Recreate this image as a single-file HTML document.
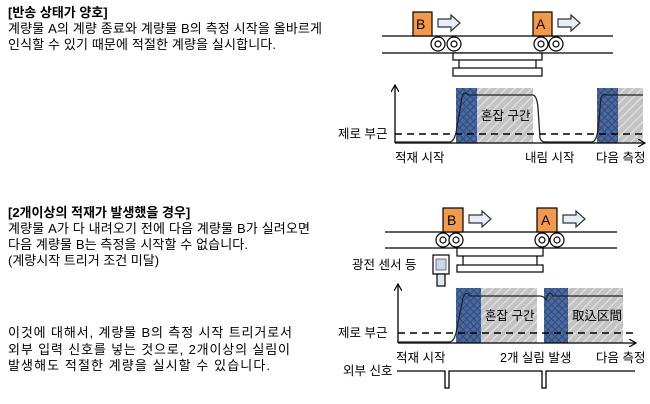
<!DOCTYPE html>
<html><head><meta charset="utf-8"><style>
html,body{margin:0;padding:0;background:#fff;}
svg{display:block;font-family:"Liberation Sans","Noto Sans CJK KR",sans-serif;}
</style></head><body>
<svg width="650" height="404" viewBox="0 0 650 404" xmlns="http://www.w3.org/2000/svg">
<defs>
<pattern id="gh" width="6" height="6" patternUnits="userSpaceOnUse" patternTransform="rotate(45)">
<rect width="6" height="6" fill="#c3c3c3"/><rect x="0" width="1.2" height="6" fill="#e4e4e4"/></pattern>
<pattern id="bh" width="5" height="5" patternUnits="userSpaceOnUse" patternTransform="rotate(45)">
<rect width="5" height="5" fill="#4a6aa0"/><rect width="1" height="5" fill="#2f4a7e"/><rect width="5" height="1" fill="#2f4a7e"/></pattern>
<marker id="ar" markerWidth="8" markerHeight="8" refX="7" refY="4" orient="auto" markerUnits="userSpaceOnUse"><path d="M0,0 L7,4 L0,8" fill="none" stroke="#000" stroke-width="1.2"/></marker>
</defs>
<g font-size="13" fill="#000">
<text x="8" y="17" font-weight="bold">[반송 상태가 양호]</text>
<text x="8" y="33" textLength="314">계량물 A의 계량 종료와 계량물 B의 측정 시작을 올바르게</text>
<text x="8" y="49" textLength="268">인식할 수 있기 때문에 적절한 계량을 실시합니다.</text>
<text x="8" y="217" font-weight="bold">[2개이상의 적재가 발생했을 경우]</text>
<text x="8" y="233" textLength="302">계량물 A가 다 내려오기 전에 다음 계량물 B가 실려오면</text>
<text x="8" y="249" textLength="240">다음 계량물 B는 측정을 시작할 수 없습니다.</text>
<text x="8" y="265">(계량시작 트리거 조건 미달)</text>
<text x="8" y="337" textLength="284">이것에 대해서, 계량물 B의 측정 시작 트리거로서</text>
<text x="8" y="354" textLength="282">외부 입력 신호를 넣는 것으로, 2개이상의 실림이</text>
<text x="8" y="370" textLength="262">발생해도 적절한 계량을 실시할 수 있습니다.</text>
</g>
<!-- TOP DIAGRAM -->
<g stroke="#000" stroke-width="1.2" fill="#fff">
<line x1="382" y1="36" x2="613" y2="36"/><line x1="382" y1="53" x2="613" y2="53"/>
<rect x="413" y="12" width="19" height="24" fill="#f39a4a"/>
<rect x="533" y="12" width="19" height="24" fill="#f39a4a"/>
<path d="M438,19 H451 V15 L460,23 L451,31 V27 H438 Z" fill="#e8eef6" stroke="#333"/>
<path d="M558,19 H571 V15 L580,23 L571,31 V27 H558 Z" fill="#e8eef6" stroke="#333"/>
<rect x="453" y="53" width="89" height="7"/><rect x="453" y="68" width="89" height="8"/>
<line x1="459" y1="60" x2="459" y2="68"/><line x1="536" y1="60" x2="536" y2="68"/>
<circle cx="438" cy="44" r="7"/><circle cx="438" cy="44" r="3"/>
<circle cx="454" cy="44" r="7"/><circle cx="454" cy="44" r="3"/>
<circle cx="541" cy="44" r="7"/><circle cx="541" cy="44" r="3"/>
<circle cx="556" cy="44" r="7"/><circle cx="556" cy="44" r="3"/>
</g>
<g font-size="14"><text x="416" y="29">B</text><text x="536" y="29">A</text></g>
<rect x="456" y="88" width="21" height="55" fill="url(#bh)"/>
<rect x="477" y="88" width="56" height="55" fill="url(#gh)"/>
<rect x="597" y="88" width="21" height="55" fill="url(#bh)"/>
<rect x="618" y="88" width="25" height="55" fill="url(#gh)"/>
<line x1="395" y1="134" x2="643" y2="134" stroke="#000" stroke-width="1.5" stroke-dasharray="7,5"/>
<path d="M395,143 V85" stroke="#000" stroke-width="1.3" fill="none" marker-end="url(#ar)"/>
<path d="M395,143 H645" stroke="#000" stroke-width="1.3" fill="none" marker-end="url(#ar)"/>
<path d="M395,142 H450 Q454,141 456,133 L462,97 Q464,90 468,95 H533 Q537,96 538,108 L540,138 Q541,142 546,142 H592 Q596,142 598,130 L601,98 Q603,93 606,95 H643" stroke="#222" stroke-width="1.3" fill="none"/>
<g font-size="12.5">
<text x="481" y="120">혼잡 구간</text>
<text x="338" y="138">제로 부근</text>
<text x="395" y="162">적재 시작</text>
<text x="525" y="162">내림 시작</text>
<text x="596" y="162">다음 측정</text>
</g>
<!-- BOTTOM DIAGRAM -->
<g stroke="#000" stroke-width="1.2" fill="#fff">
<line x1="385" y1="232" x2="617" y2="232"/><line x1="385" y1="248" x2="617" y2="248"/>
<rect x="443" y="208" width="20" height="24" fill="#f39a4a"/>
<rect x="537" y="208" width="20" height="24" fill="#f39a4a"/>
<path d="M469,215 H482 V211 L491,219 L482,227 V223 H469 Z" fill="#e8eef6" stroke="#333"/>
<path d="M563,215 H576 V211 L585,219 L576,227 V223 H563 Z" fill="#e8eef6" stroke="#333"/>
<rect x="457" y="248" width="86" height="8"/><rect x="457" y="265" width="86" height="7"/>
<line x1="463" y1="256" x2="463" y2="265"/><line x1="537" y1="256" x2="537" y2="265"/>
<circle cx="443" cy="240" r="7"/><circle cx="443" cy="240" r="3"/>
<circle cx="456" cy="240" r="7"/><circle cx="456" cy="240" r="3"/>
<circle cx="542" cy="240" r="7"/><circle cx="542" cy="240" r="3"/>
<circle cx="557" cy="240" r="7"/><circle cx="557" cy="240" r="3"/>
<rect x="433" y="255" width="16" height="19"/>
<rect x="437" y="274" width="8" height="12" fill="#dfe6f2"/>
</g>
<rect x="436" y="259" width="10" height="11" fill="#c9d6ec" stroke="#555" stroke-width="0.8"/>
<g font-size="14"><text x="447" y="225">B</text><text x="541" y="225">A</text></g>
<rect x="456" y="288" width="25" height="55" fill="url(#bh)"/>
<rect x="481" y="288" width="56" height="55" fill="url(#gh)"/>
<rect x="544" y="288" width="24" height="55" fill="url(#bh)"/>
<rect x="568" y="288" width="55" height="55" fill="url(#gh)"/>
<line x1="398" y1="333" x2="636" y2="333" stroke="#000" stroke-width="1.5" stroke-dasharray="7,5"/>
<path d="M398,343 V284" stroke="#000" stroke-width="1.3" fill="none" marker-end="url(#ar)"/>
<path d="M398,343 H636" stroke="#000" stroke-width="1.3" fill="none" marker-end="url(#ar)"/>
<path d="M398,342 H450 Q454,341 456,333 L463,298 Q466,290 470,296 H540 Q544,296 546,300 Q549,289 553,296 H623" stroke="#222" stroke-width="1.2" fill="none"/>
<path d="M397,371 H445 V388 H449 V371 H542 V388 H546 V371 H635" stroke="#000" stroke-width="1.3" fill="none"/>
<g font-size="12.5">
<text x="352" y="269">광전 센서 등</text>
<text x="485" y="320">혼잡 구간</text>
<text x="572" y="320">取込区間</text>
<text x="338" y="337">제로 부근</text>
<text x="396" y="362">적재 시작</text>
<text x="500" y="362">2개 실림 발생</text>
<text x="596" y="362">다음 측정</text>
<text x="343" y="375">외부 신호</text>
</g>
</svg>
</body></html>
